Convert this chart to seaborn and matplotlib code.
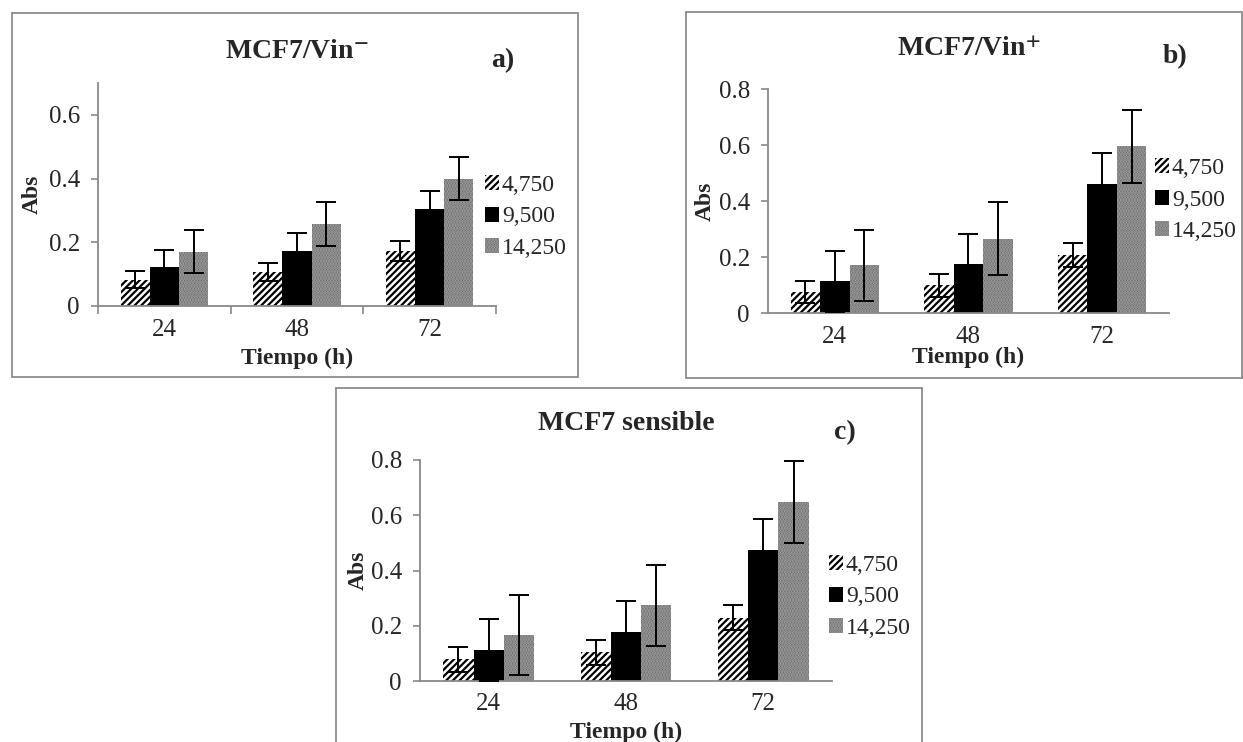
import numpy as np
import pandas as pd
import matplotlib
matplotlib.use('Agg')
import matplotlib.pyplot as plt
from matplotlib.patches import Rectangle
import seaborn as sns

# datos
tiempos = ['24', '48', '72']
concentraciones = ['4,750', '9,500', '14,250']

# filas = concentración, columnas = tiempo
vin_neg_abs = [[0.082, 0.108, 0.172], [0.122, 0.174, 0.305], [0.171, 0.257, 0.400]]
vin_neg_err = [[0.027, 0.028, 0.031], [0.055, 0.055, 0.055], [0.068, 0.068, 0.068]]

vin_pos_abs = [[0.075, 0.099, 0.207], [0.113, 0.176, 0.462], [0.170, 0.266, 0.595]]
vin_pos_err = [[0.041, 0.042, 0.042], [0.110, 0.107, 0.109], [0.128, 0.130, 0.130]]

sens_abs = [[0.078, 0.104, 0.229], [0.112, 0.176, 0.476], [0.166, 0.274, 0.649]]
sens_err = [[0.046, 0.046, 0.046], [0.113, 0.114, 0.112], [0.146, 0.147, 0.149]]

sns.set_style('white')
plt.rcParams['font.family'] = ['Liberation Serif', 'DejaVu Serif']
plt.rcParams['mathtext.fontset'] = 'stix'
plt.rcParams['hatch.linewidth'] = 1.6

W, H = 1243, 742
fig = plt.figure(figsize=(W / 100, H / 100), dpi=100)

# estilo de cada serie: relleno, trama, color de trama
estilos = [('white', '/////', 'black'), ('black', None, 'black'), ('#5e5e5e', '......', '#ababab')]
gris = '#898989'

# posiciones en pixeles de cada panel
paneles = [
    dict(abs=vin_neg_abs, err=vin_neg_err, titulo='MCF7/Vin$^{\\mathbf{-}}$', letra='a)', ymax=0.7,
         caja=(98, 83, 496, 306), marco=(12, 13, 578, 377), tit=(297, 51), let=(503, 61),
         ley=(485, 217), xl=358, yl=32, sep=True),
    dict(abs=vin_pos_abs, err=vin_pos_err, titulo='MCF7/Vin$^{\\mathbf{+}}$', letra='b)', ymax=0.8,
         caja=(768, 89, 1169, 313), marco=(686, 12, 1242, 378), tit=(969, 50), let=(1175, 57),
         ley=(1155, 200), xl=357, yl=705, sep=False),
    dict(abs=sens_abs, err=sens_err, titulo='MCF7 sensible', letra='c)', ymax=0.8,
         caja=(420, 460, 832, 681), marco=(336, 388, 922, 760), tit=(626, 424), let=(845, 433),
         ley=(829, 597), xl=732, yl=358, sep=False),
]

for p in paneles:
    l, t, r, b = p['caja']
    ax = fig.add_axes([l / W, 1 - b / H, (r - l) / W, (b - t) / H])
    df = pd.DataFrame({
        'Tiempo': np.tile(tiempos, 3),
        'Concentracion': np.repeat(concentraciones, 3),
        'Abs': np.ravel(p['abs']),
    })
    sns.barplot(data=df, x='Tiempo', y='Abs', hue='Concentracion', order=tiempos,
                hue_order=concentraciones, errorbar=None, width=0.66, gap=0,
                palette=['white', 'black', '#5e5e5e'], saturation=1, legend=False, ax=ax)
    barras = list(ax.containers[:3])
    for cont, (cara, trama, ctrama), e in zip(barras, estilos, p['err']):
        for bar in cont:
            bar.set_facecolor(cara)
            bar.set_hatch(trama)
            bar.set_edgecolor(ctrama)
            bar.set_linewidth(0)
        xs = [bar.get_x() + bar.get_width() / 2 for bar in cont]
        ys = [bar.get_height() for bar in cont]
        ax.errorbar(xs, ys, yerr=e, fmt='none', ecolor='black', elinewidth=1.4,
                    capsize=7, capthick=1.4, zorder=5)

    ax.set_ylim(0, p['ymax'])
    yt = np.arange(0, p['ymax'] + 0.01, 0.2)
    ax.set_yticks(yt)
    ax.set_yticklabels([f'{v:g}' for v in yt])
    ax.set_xlim(-0.5, 2.5)
    for s in ['top', 'right']:
        ax.spines[s].set_visible(False)
    for s in ['left', 'bottom']:
        ax.spines[s].set_color(gris)
        ax.spines[s].set_linewidth(1.3)
    ax.tick_params(axis='y', left=True, length=5, width=1.2, color=gris, labelsize=18, pad=8)
    ax.tick_params(axis='x', bottom=False, length=0, labelsize=18, pad=9)
    if p['sep']:
        ax.set_xticks([-0.5, 0.5, 1.5, 2.5], minor=True)
        ax.tick_params(axis='x', which='minor', bottom=True, length=6, width=1.2, color=gris)

    ax.set_xlabel('Tiempo (h)', fontsize=17, fontweight='bold')
    ax.xaxis.set_label_coords(0.5, -(p['xl'] - b) / (b - t))
    ax.xaxis.label.set_va('center')
    ax.set_ylabel('Abs', fontsize=17, fontweight='bold')
    ax.yaxis.set_label_coords((p['yl'] - l) / (r - l), 0.5)
    ax.yaxis.label.set_va('center')

    ax.legend(barras, concentraciones, loc='center left',
              bbox_to_anchor=(p['ley'][0] / W, 1 - p['ley'][1] / H), bbox_transform=fig.transFigure,
              frameon=False, fontsize=17, handlelength=0.6, handleheight=0.6,
              handletextpad=0.12, labelspacing=0.45, borderpad=0, borderaxespad=0)

    fig.text(p['tit'][0] / W, 1 - p['tit'][1] / H, p['titulo'], ha='center', va='center',
             fontsize=20, fontweight='bold')
    fig.text(p['let'][0] / W, 1 - p['let'][1] / H, p['letra'], ha='center', va='center',
             fontsize=20, fontweight='bold')

    fl, ft, fr, fb = p['marco']
    fig.add_artist(Rectangle((fl / W, 1 - fb / H), (fr - fl) / W, (fb - ft) / H,
                             transform=fig.transFigure, fill=False, edgecolor='#8c8c8c',
                             linewidth=1.3, clip_on=False))

fig.savefig('out.png', dpi=100)
